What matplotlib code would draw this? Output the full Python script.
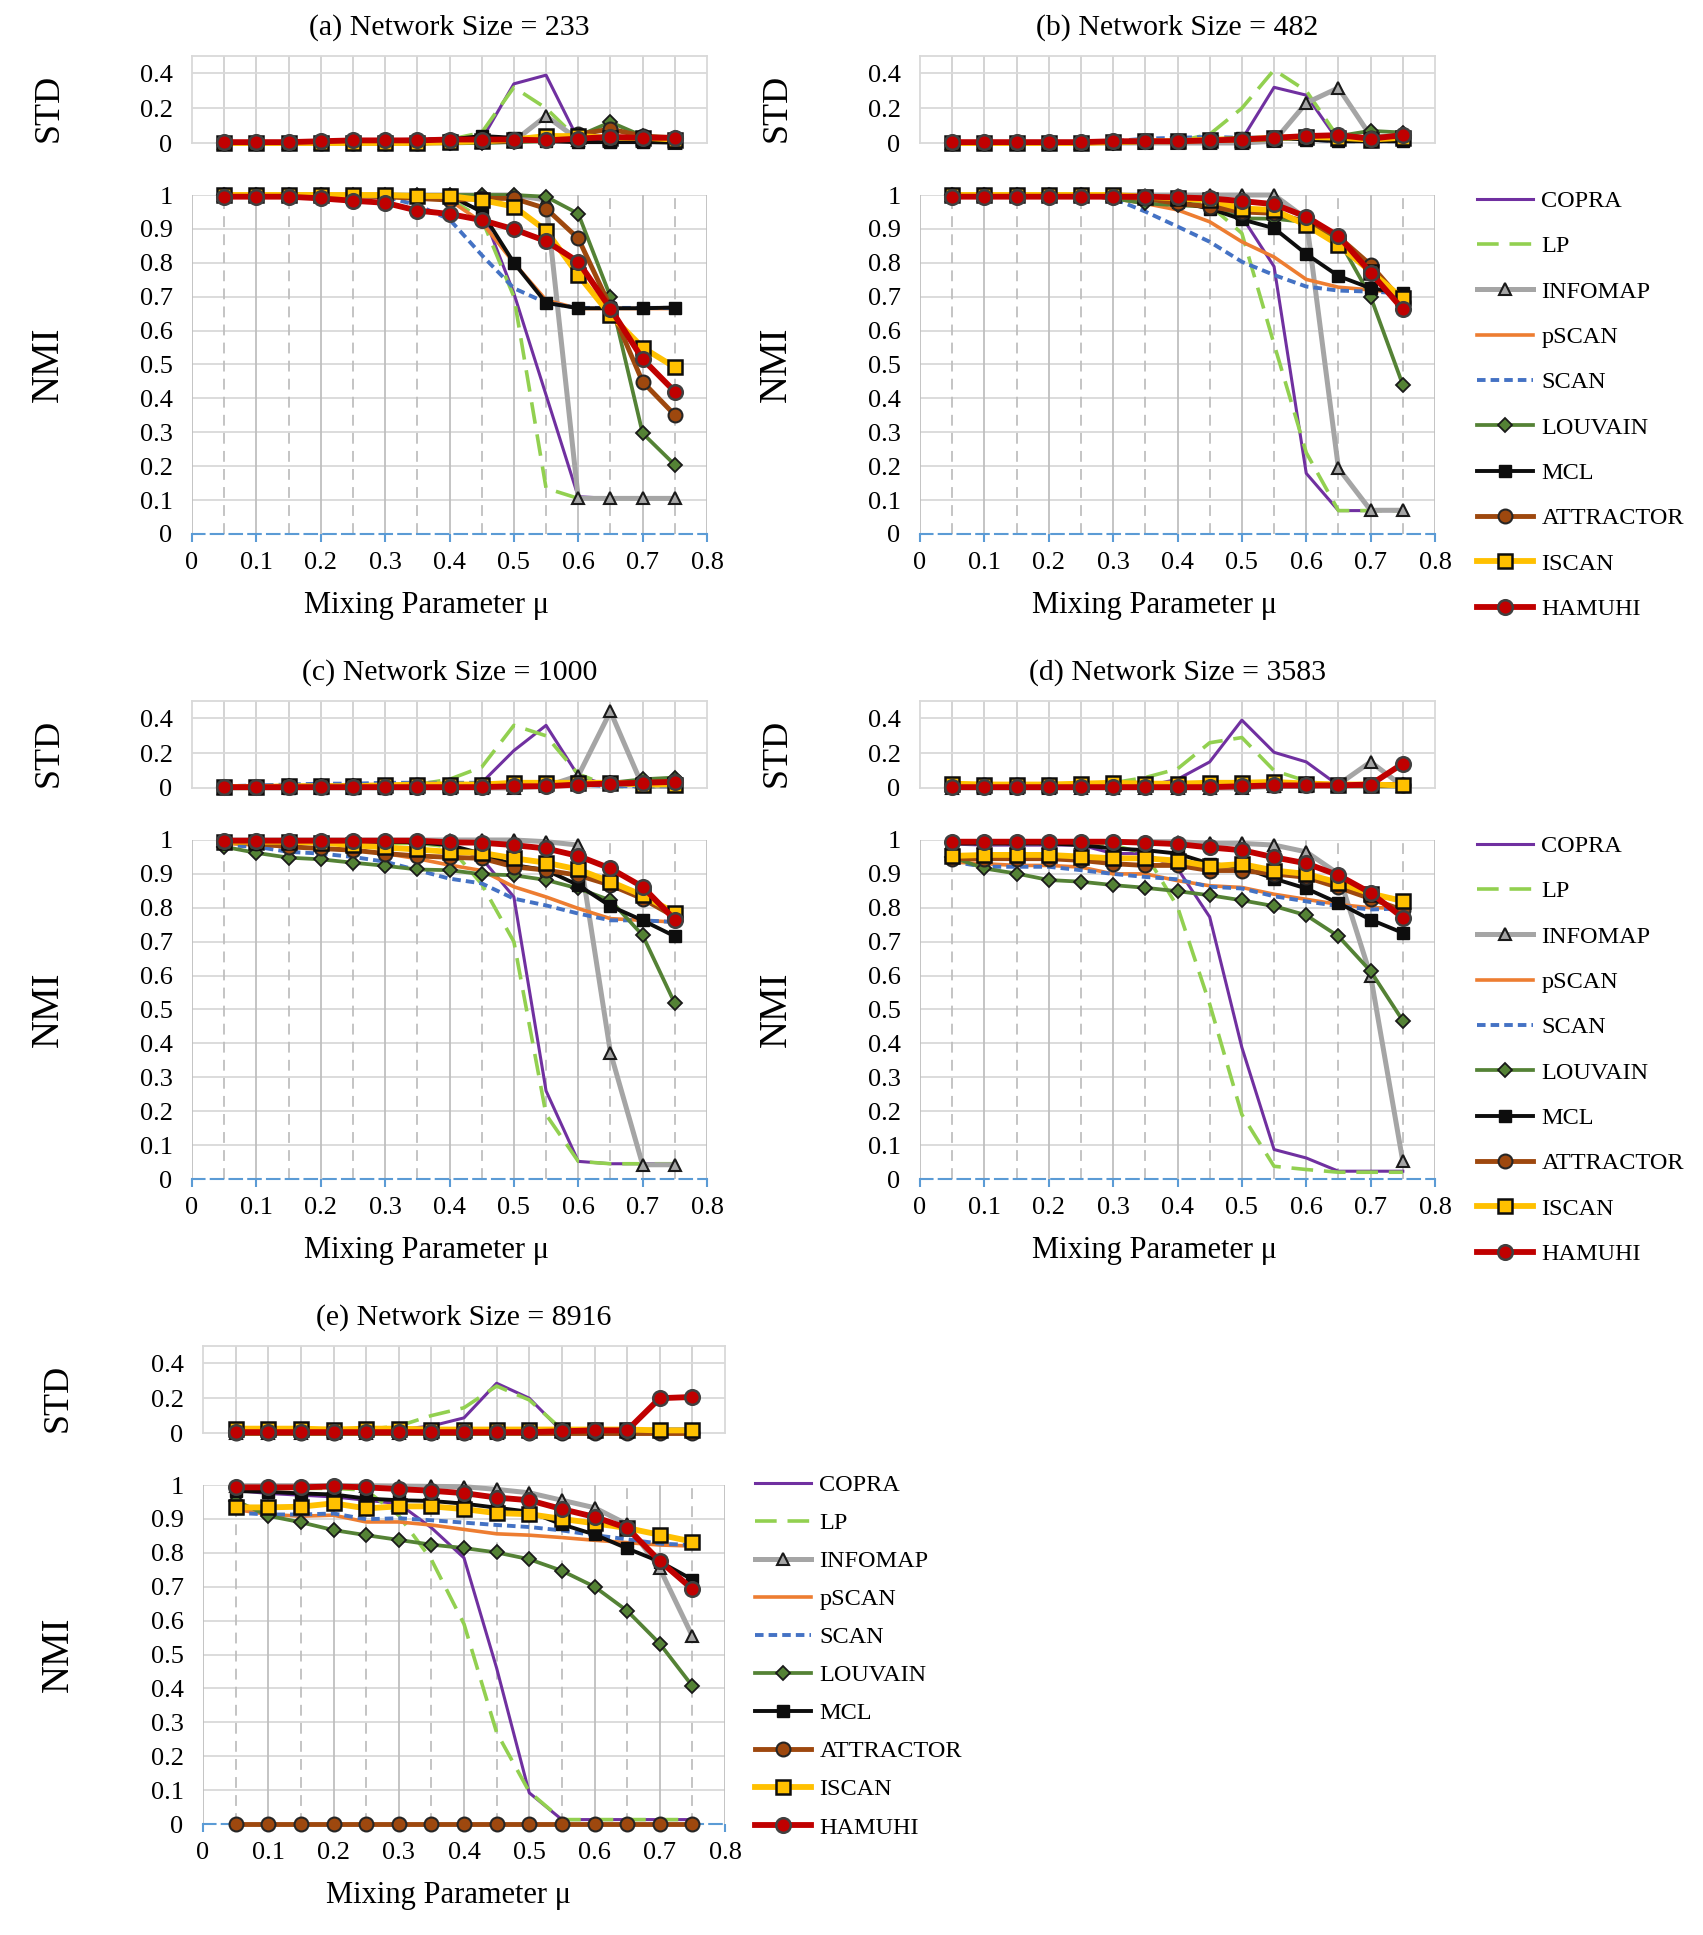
import matplotlib
matplotlib.use("Agg")
import matplotlib.pyplot as plt
import numpy as np

plt.rcParams['font.family'] = ['Liberation Serif', 'DejaVu Serif']

# mixing parameter values (x axis)
mu = [0.05, 0.10, 0.15, 0.20, 0.25, 0.30, 0.35, 0.40, 0.45, 0.50, 0.55, 0.60, 0.65, 0.70, 0.75]
methods = ["COPRA", "LP", "INFOMAP", "pSCAN", "SCAN", "LOUVAIN", "MCL", "ATTRACTOR", "ISCAN", "HAMUHI"]

# ---- network size 233 ----
nmi_233 = {
    "COPRA":     [1, 1, 1, 1, 1, 1, 1, 0.99, 0.955, 0.71, 0.41, 0.11, 0.105, 0.105, 0.105],
    "LP":        [1, 1, 1, 1, 1, 1, 1, 0.99, 0.93, 0.70, 0.135, 0.105, 0.105, 0.105, 0.105],
    "INFOMAP":   [1, 1, 1, 1, 1, 1, 1, 1, 1, 1, 0.985, 0.105, 0.105, 0.105, 0.105],
    "pSCAN":     [1, 1, 1, 1, 1, 1, 0.995, 0.985, 0.92, 0.80, 0.69, 0.665, 0.665, 0.665, 0.665],
    "SCAN":      [1, 1, 1, 1, 1, 0.995, 0.97, 0.928, 0.823, 0.725, 0.682, 0.667, 0.667, 0.667, 0.667],
    "LOUVAIN":   [1, 1, 1, 1, 1, 1, 1, 1, 1, 1, 0.995, 0.945, 0.70, 0.297, 0.204],
    "MCL":       [1, 1, 1, 1, 1, 1, 1, 1, 0.95, 0.80, 0.682, 0.666, 0.666, 0.666, 0.668],
    "ATTRACTOR": [1, 1, 1, 1, 0.997, 0.995, 0.99, 0.985, 0.99, 0.99, 0.96, 0.872, 0.67, 0.449, 0.351],
    "ISCAN":     [1, 1, 1, 1, 1, 1, 0.997, 0.997, 0.985, 0.966, 0.895, 0.764, 0.646, 0.55, 0.492],
    "HAMUHI":    [0.995, 0.995, 0.995, 0.99, 0.983, 0.977, 0.954, 0.944, 0.926, 0.899, 0.864, 0.803, 0.665, 0.516, 0.42],
}
std_233 = {
    "COPRA":     [0, 0, 0, 0, 0, 0, 0.005, 0.01, 0.02, 0.34, 0.39, 0.02, 0.01, 0.01, 0.01],
    "LP":        [0, 0, 0, 0, 0, 0.005, 0.01, 0.02, 0.06, 0.32, 0.2, 0.02, 0.01, 0.01, 0.01],
    "INFOMAP":   [0, 0, 0, 0, 0, 0, 0, 0, 0.005, 0.01, 0.155, 0.02, 0.01, 0.01, 0.0],
    "pSCAN":     [0, 0, 0, 0.005, 0.01, 0.01, 0.015, 0.02, 0.03, 0.02, 0.02, 0.01, 0.01, 0.01, 0.01],
    "SCAN":      [0, 0, 0, 0.005, 0.01, 0.015, 0.02, 0.025, 0.03, 0.02, 0.02, 0.01, 0.01, 0.01, 0.01],
    "LOUVAIN":   [0, 0, 0, 0, 0, 0, 0, 0, 0, 0.005, 0.01, 0.04, 0.12, 0.04, 0.03],
    "MCL":       [0, 0, 0, 0, 0, 0, 0, 0.02, 0.04, 0.03, 0.01, 0.005, 0.005, 0.005, 0.005],
    "ATTRACTOR": [0, 0, 0, 0, 0, 0, 0, 0.005, 0.01, 0.01, 0.02, 0.05, 0.08, 0.04, 0.03],
    "ISCAN":     [0, 0, 0, 0, 0, 0, 0, 0.005, 0.01, 0.02, 0.04, 0.04, 0.03, 0.03, 0.02],
    "HAMUHI":    [0.005, 0.005, 0.005, 0.01, 0.015, 0.015, 0.015, 0.02, 0.02, 0.02, 0.015, 0.025, 0.035, 0.03, 0.03],
}

# ---- network size 482 ----
nmi_482 = {
    "COPRA":     [1, 1, 1, 1, 1, 1, 0.995, 0.99, 0.985, 0.936, 0.789, 0.179, 0.069, 0.069, 0.069],
    "LP":        [1, 1, 1, 1, 1, 1, 0.99, 0.985, 0.97, 0.887, 0.56, 0.24, 0.069, 0.069, 0.069],
    "INFOMAP":   [1, 1, 1, 1, 1, 1, 1, 1, 1, 1, 1, 0.93, 0.194, 0.07, 0.07],
    "pSCAN":     [1, 1, 1, 1, 1, 0.99, 0.975, 0.956, 0.921, 0.862, 0.817, 0.751, 0.728, 0.72, 0.71],
    "SCAN":      [1, 1, 1, 1, 1, 0.99, 0.951, 0.907, 0.862, 0.803, 0.764, 0.73, 0.718, 0.715, 0.71],
    "LOUVAIN":   [1, 1, 1, 1, 1, 0.99, 0.975, 0.97, 0.965, 0.931, 0.93, 0.92, 0.87, 0.70, 0.44],
    "MCL":       [1, 1, 1, 1, 1, 1, 0.99, 0.98, 0.96, 0.928, 0.902, 0.826, 0.761, 0.725, 0.71],
    "ATTRACTOR": [1, 1, 1, 1, 1, 0.995, 0.99, 0.975, 0.966, 0.95, 0.946, 0.921, 0.877, 0.794, 0.685],
    "ISCAN":     [1, 1, 1, 1, 1, 1, 0.995, 0.99, 0.985, 0.96, 0.956, 0.911, 0.853, 0.774, 0.695],
    "HAMUHI":    [0.995, 0.995, 0.995, 0.995, 0.995, 0.995, 0.995, 0.993, 0.99, 0.982, 0.973, 0.936, 0.879, 0.771, 0.663],
}
std_482 = {
    "COPRA":     [0, 0, 0, 0, 0, 0, 0, 0, 0.005, 0.02, 0.32, 0.275, 0.01, 0.01, 0.01],
    "LP":        [0, 0, 0, 0, 0, 0, 0.005, 0.01, 0.05, 0.2, 0.42, 0.3, 0.03, 0.02, 0.02],
    "INFOMAP":   [0, 0, 0, 0, 0, 0, 0, 0, 0, 0, 0.01, 0.23, 0.317, 0.04, 0.03],
    "pSCAN":     [0, 0, 0, 0, 0.005, 0.01, 0.01, 0.015, 0.02, 0.025, 0.03, 0.03, 0.02, 0.02, 0.015],
    "SCAN":      [0, 0, 0, 0, 0.005, 0.01, 0.025, 0.03, 0.035, 0.03, 0.03, 0.02, 0.01, 0.01, 0.01],
    "LOUVAIN":   [0, 0, 0, 0, 0, 0, 0.005, 0.01, 0.01, 0.015, 0.02, 0.03, 0.04, 0.07, 0.06],
    "MCL":       [0, 0, 0, 0, 0, 0.005, 0.01, 0.01, 0.02, 0.03, 0.03, 0.02, 0.01, 0.01, 0.01],
    "ATTRACTOR": [0, 0, 0, 0, 0, 0.005, 0.01, 0.01, 0.015, 0.02, 0.03, 0.035, 0.04, 0.03, 0.04],
    "ISCAN":     [0, 0, 0, 0, 0, 0.005, 0.01, 0.01, 0.02, 0.02, 0.03, 0.035, 0.03, 0.02, 0.03],
    "HAMUHI":    [0.005, 0.005, 0.005, 0.005, 0.005, 0.01, 0.01, 0.01, 0.015, 0.02, 0.03, 0.04, 0.045, 0.025, 0.045],
}

# ---- network size 1000 ----
nmi_1000 = {
    "COPRA":     [0.995, 0.995, 0.995, 0.995, 0.995, 0.99, 0.99, 0.985, 0.946, 0.832, 0.26, 0.052, 0.045, 0.045, 0.045],
    "LP":        [0.995, 0.995, 0.995, 0.995, 0.995, 0.99, 0.99, 0.98, 0.87, 0.70, 0.19, 0.052, 0.045, 0.045, 0.045],
    "INFOMAP":   [1, 1, 1, 1, 1, 1, 1, 1, 1, 1, 0.995, 0.985, 0.373, 0.042, 0.042],
    "pSCAN":     [0.99, 0.985, 0.98, 0.975, 0.97, 0.96, 0.945, 0.926, 0.91, 0.862, 0.832, 0.798, 0.768, 0.763, 0.758],
    "SCAN":      [0.985, 0.98, 0.965, 0.96, 0.95, 0.936, 0.911, 0.886, 0.872, 0.827, 0.807, 0.783, 0.763, 0.763, 0.758],
    "LOUVAIN":   [0.98, 0.962, 0.948, 0.943, 0.933, 0.924, 0.913, 0.911, 0.899, 0.896, 0.882, 0.857, 0.822, 0.719, 0.518],
    "MCL":       [0.995, 0.995, 0.995, 0.995, 0.995, 0.995, 0.993, 0.985, 0.96, 0.926, 0.911, 0.867, 0.805, 0.763, 0.716],
    "ATTRACTOR": [0.995, 0.99, 0.98, 0.975, 0.97, 0.96, 0.953, 0.949, 0.946, 0.921, 0.911, 0.896, 0.867, 0.827, 0.773],
    "ISCAN":     [0.995, 0.995, 0.995, 0.992, 0.985, 0.978, 0.972, 0.965, 0.962, 0.946, 0.933, 0.913, 0.877, 0.837, 0.785],
    "HAMUHI":    [0.998, 0.998, 0.998, 0.998, 0.998, 0.998, 0.998, 0.993, 0.992, 0.985, 0.975, 0.953, 0.916, 0.862, 0.765],
}
std_1000 = {
    "COPRA":     [0, 0, 0, 0, 0, 0.005, 0.005, 0.01, 0.03, 0.215, 0.36, 0.07, 0.01, 0.01, 0.01],
    "LP":        [0, 0, 0, 0, 0, 0.005, 0.02, 0.05, 0.12, 0.36, 0.3, 0.08, 0.01, 0.005, 0.005],
    "INFOMAP":   [0, 0, 0, 0, 0, 0, 0, 0, 0, 0, 0.01, 0.07, 0.44, 0.01, 0.01],
    "pSCAN":     [0.01, 0.01, 0.015, 0.015, 0.02, 0.02, 0.02, 0.02, 0.025, 0.02, 0.02, 0.02, 0.02, 0.02, 0.02],
    "SCAN":      [0.01, 0.015, 0.02, 0.025, 0.025, 0.03, 0.03, 0.03, 0.03, 0.025, 0.02, 0.02, 0.01, 0.01, 0.01],
    "LOUVAIN":   [0.005, 0.005, 0.01, 0.01, 0.01, 0.01, 0.01, 0.01, 0.01, 0.01, 0.01, 0.02, 0.03, 0.05, 0.06],
    "MCL":       [0, 0, 0, 0, 0, 0, 0.005, 0.005, 0.01, 0.01, 0.02, 0.03, 0.03, 0.02, 0.02],
    "ATTRACTOR": [0.005, 0.005, 0.01, 0.01, 0.01, 0.01, 0.015, 0.015, 0.02, 0.02, 0.02, 0.03, 0.03, 0.03, 0.04],
    "ISCAN":     [0.005, 0.005, 0.01, 0.01, 0.01, 0.015, 0.02, 0.02, 0.02, 0.03, 0.03, 0.03, 0.03, 0.02, 0.02],
    "HAMUHI":    [0.005, 0.005, 0.005, 0.005, 0.005, 0.005, 0.005, 0.005, 0.005, 0.01, 0.01, 0.02, 0.025, 0.03, 0.035],
}

# ---- network size 3583 ----
nmi_3583 = {
    "COPRA":     [0.988, 0.985, 0.985, 0.985, 0.985, 0.96, 0.96, 0.916, 0.773, 0.388, 0.087, 0.062, 0.023, 0.023, 0.023],
    "LP":        [0.99, 0.99, 0.99, 0.99, 0.99, 0.985, 0.96, 0.803, 0.516, 0.19, 0.0375, 0.028, 0.02, 0.02, 0.02],
    "INFOMAP":   [0.995, 0.995, 0.995, 0.995, 0.995, 0.995, 0.995, 0.995, 0.99, 0.99, 0.985, 0.965, 0.9, 0.6, 0.052],
    "pSCAN":     [0.935, 0.93, 0.925, 0.925, 0.92, 0.9, 0.9, 0.88, 0.865, 0.86, 0.84, 0.825, 0.81, 0.8, 0.8],
    "SCAN":      [0.936, 0.921, 0.921, 0.921, 0.911, 0.9, 0.891, 0.884, 0.862, 0.857, 0.834, 0.819, 0.805, 0.795, 0.798],
    "LOUVAIN":   [0.95, 0.916, 0.901, 0.882, 0.877, 0.867, 0.859, 0.849, 0.837, 0.822, 0.805, 0.778, 0.716, 0.613, 0.467],
    "MCL":       [0.99, 0.99, 0.99, 0.99, 0.985, 0.975, 0.97, 0.96, 0.93, 0.92, 0.886, 0.857, 0.814, 0.765, 0.726],
    "ATTRACTOR": [0.945, 0.945, 0.945, 0.945, 0.94, 0.93, 0.925, 0.925, 0.91, 0.91, 0.9, 0.89, 0.86, 0.827, 0.793],
    "ISCAN":     [0.953, 0.956, 0.956, 0.956, 0.951, 0.946, 0.946, 0.939, 0.923, 0.929, 0.91, 0.9, 0.874, 0.842, 0.82],
    "HAMUHI":    [0.995, 0.995, 0.995, 0.995, 0.995, 0.995, 0.992, 0.988, 0.978, 0.97, 0.949, 0.931, 0.896, 0.844, 0.771],
}
std_3583 = {
    "COPRA":     [0, 0, 0, 0, 0, 0, 0.01, 0.05, 0.15, 0.39, 0.205, 0.15, 0.015, 0.01, 0.01],
    "LP":        [0, 0, 0, 0, 0.01, 0.03, 0.06, 0.11, 0.26, 0.29, 0.1, 0.04, 0.01, 0.01, 0.01],
    "INFOMAP":   [0, 0, 0, 0, 0, 0, 0, 0, 0, 0, 0.01, 0.01, 0.02, 0.15, 0.01],
    "pSCAN":     [0.02, 0.02, 0.02, 0.02, 0.02, 0.02, 0.02, 0.02, 0.02, 0.02, 0.02, 0.02, 0.02, 0.02, 0.02],
    "SCAN":      [0.02, 0.02, 0.02, 0.02, 0.02, 0.02, 0.02, 0.02, 0.02, 0.02, 0.02, 0.02, 0.02, 0.02, 0.02],
    "LOUVAIN":   [0.005, 0.01, 0.01, 0.01, 0.01, 0.01, 0.01, 0.01, 0.01, 0.015, 0.02, 0.02, 0.02, 0.02, 0.02],
    "MCL":       [0.005, 0.005, 0.005, 0.005, 0.005, 0.005, 0.005, 0.005, 0.01, 0.01, 0.01, 0.01, 0.01, 0.01, 0.01],
    "ATTRACTOR": [0.015, 0.015, 0.015, 0.015, 0.015, 0.02, 0.02, 0.02, 0.025, 0.025, 0.03, 0.025, 0.02, 0.02, 0.02],
    "ISCAN":     [0.025, 0.02, 0.02, 0.02, 0.025, 0.03, 0.025, 0.025, 0.03, 0.03, 0.035, 0.025, 0.02, 0.02, 0.015],
    "HAMUHI":    [0.005, 0.005, 0.005, 0.005, 0.005, 0.005, 0.005, 0.005, 0.005, 0.01, 0.015, 0.015, 0.015, 0.02, 0.14],
}

# ---- network size 8916 ----
nmi_8916 = {
    "COPRA":     [0.984, 0.975, 0.97, 0.965, 0.955, 0.945, 0.874, 0.785, 0.46, 0.092, 0.013, 0.013, 0.013, 0.013, 0.013],
    "LP":        [0.99, 0.99, 0.99, 0.99, 0.985, 0.91, 0.78, 0.59, 0.27, 0.095, 0.013, 0.013, 0.013, 0.013, 0.013],
    "INFOMAP":   [0.998, 0.998, 0.998, 0.998, 0.998, 0.997, 0.996, 0.995, 0.987, 0.977, 0.955, 0.933, 0.884, 0.754, 0.554],
    "pSCAN":     [0.928, 0.913, 0.908, 0.911, 0.891, 0.891, 0.882, 0.869, 0.856, 0.852, 0.845, 0.837, 0.83, 0.823, 0.82],
    "SCAN":      [0.918, 0.913, 0.913, 0.916, 0.899, 0.902, 0.896, 0.889, 0.882, 0.876, 0.866, 0.852, 0.84, 0.827, 0.823],
    "LOUVAIN":   [0.954, 0.909, 0.89, 0.867, 0.852, 0.838, 0.824, 0.814, 0.801, 0.781, 0.747, 0.7, 0.629, 0.532, 0.407],
    "MCL":       [0.982, 0.98, 0.975, 0.972, 0.96, 0.955, 0.953, 0.945, 0.933, 0.921, 0.884, 0.854, 0.813, 0.774, 0.721],
    "ATTRACTOR": [0, 0, 0, 0, 0, 0, 0, 0, 0, 0, 0, 0, 0, 0, 0],
    "ISCAN":     [0.934, 0.934, 0.936, 0.946, 0.931, 0.937, 0.937, 0.929, 0.917, 0.914, 0.9, 0.887, 0.873, 0.853, 0.833],
    "HAMUHI":    [0.993, 0.993, 0.993, 0.996, 0.993, 0.988, 0.983, 0.976, 0.963, 0.955, 0.929, 0.906, 0.873, 0.776, 0.693],
}
std_8916 = {
    "COPRA":     [0.01, 0.01, 0.01, 0.01, 0.01, 0.02, 0.04, 0.087, 0.286, 0.2, 0.01, 0.01, 0.01, 0.01, 0.01],
    "LP":        [0.01, 0.01, 0.01, 0.01, 0.02, 0.04, 0.1, 0.145, 0.27, 0.19, 0.02, 0.01, 0.01, 0.01, 0.01],
    "INFOMAP":   [0, 0, 0, 0, 0, 0, 0, 0, 0, 0.01, 0.01, 0.01, 0.01, 0.02, 0.02],
    "pSCAN":     [0.02, 0.02, 0.02, 0.02, 0.02, 0.02, 0.02, 0.02, 0.02, 0.02, 0.02, 0.02, 0.02, 0.02, 0.02],
    "SCAN":      [0.02, 0.02, 0.02, 0.02, 0.02, 0.02, 0.02, 0.02, 0.02, 0.02, 0.02, 0.02, 0.02, 0.02, 0.02],
    "LOUVAIN":   [0.01, 0.01, 0.01, 0.01, 0.01, 0.01, 0.01, 0.01, 0.01, 0.01, 0.01, 0.01, 0.01, 0.01, 0.01],
    "MCL":       [0.005, 0.005, 0.005, 0.005, 0.005, 0.005, 0.005, 0.005, 0.005, 0.005, 0.005, 0.005, 0.005, 0.005, 0.005],
    "ATTRACTOR": [0, 0, 0, 0, 0, 0, 0, 0, 0, 0, 0, 0, 0, 0, 0],
    "ISCAN":     [0.025, 0.025, 0.025, 0.02, 0.025, 0.025, 0.02, 0.02, 0.02, 0.02, 0.02, 0.02, 0.02, 0.015, 0.015],
    "HAMUHI":    [0.005, 0.005, 0.005, 0.005, 0.005, 0.005, 0.005, 0.005, 0.005, 0.005, 0.01, 0.015, 0.015, 0.2, 0.207],
}

STYLE = {
    "COPRA":     dict(color="#7030A0", lw=2.2),
    "LP":        dict(color="#92D050", lw=2.6, dashes=(6, 3)),
    "INFOMAP":   dict(color="#A5A5A5", lw=3.6, marker="^", ms=9, mfc="#A5A5A5", mec="#1A1A1A", mew=1.5),
    "pSCAN":     dict(color="#ED7D31", lw=2.6),
    "SCAN":      dict(color="#4472C4", lw=2.8, dashes=(2.2, 1.3)),
    "LOUVAIN":   dict(color="#548235", lw=2.7, marker="D", ms=7.5, mfc="#548235", mec="#1A1A1A", mew=1.3),
    "MCL":       dict(color="#0D0D0D", lw=2.8, marker="s", ms=8, mfc="#0D0D0D", mec="#0D0D0D"),
    "ATTRACTOR": dict(color="#9E480E", lw=3.5, marker="o", ms=10, mfc="#9E480E", mec="#262626", mew=1.5),
    "ISCAN":     dict(color="#FFC000", lw=4.2, marker="s", ms=10.5, mfc="#FFC000", mec="#0D0D0D", mew=1.8),
    "HAMUHI":    dict(color="#C00000", lw=4.2, marker="o", ms=10.5, mfc="#C00000", mec="#404040", mew=1.8),
}

W, H = 1703, 1935
TICK_FS = 19


def px_axes(left, top, width, height):
    return fig.add_axes([left / W, 1 - (top + height) / H, width / W, height / H])


def draw_std(ax, data, title):
    ax.set_xlim(0, 0.8)
    ax.set_ylim(0, 0.5)
    for x in np.arange(0.05, 0.8, 0.05):
        ax.axvline(x, color="#C8C8C8", lw=1.1, zorder=0.5)
    for y in [0.2, 0.4]:
        ax.axhline(y, color="#D9D9D9", lw=1.3, zorder=0.5)
    for s in ax.spines.values():
        s.set_color("#D9D9D9")
        s.set_linewidth(1.3)
    ax.set_xticks([])
    ax.set_yticks([0, 0.2, 0.4])
    ax.set_yticklabels(["0", "0.2", "0.4"])
    ax.tick_params(axis="y", length=0, pad=14, labelsize=TICK_FS)
    for i, m in enumerate(methods):
        ax.plot(mu, data[m], label=m, zorder=2 + i, clip_on=False, **STYLE[m])
    ax.text(-0.278, 0.4, "STD", transform=ax.transAxes, rotation=90,
            ha="center", va="center", fontsize=26)
    ax.text(0.5, 1.33, title, transform=ax.transAxes, ha="center", va="center", fontsize=21.5)


def draw_nmi(ax, data, xlab_pos):
    ax.set_xlim(0, 0.8)
    ax.set_ylim(0, 1)
    for y in np.arange(0.1, 1.01, 0.1):
        ax.axhline(y, color="#D9D9D9", lw=1.3, zorder=0.5)
    for x in np.arange(0, 0.81, 0.1):
        ax.axvline(x, color="#BFBFBF", lw=1.3, zorder=0.6)
    for x in np.arange(0.05, 0.8, 0.1):
        ax.axvline(x, color="#BFBFBF", lw=1.3, dashes=(6, 4), zorder=0.6)
    for side in ["top", "left", "right"]:
        ax.spines[side].set_visible(False)
    ax.spines["bottom"].set_color("#5B9BD5")
    ax.spines["bottom"].set_linewidth(1.5)
    ax.spines["bottom"].set_linestyle((0, (6, 3)))
    ax.set_xticks(np.arange(0, 0.81, 0.1))
    ax.set_xticklabels(["0", "0.1", "0.2", "0.3", "0.4", "0.5", "0.6", "0.7", "0.8"])
    ax.set_yticks(np.arange(0, 1.01, 0.1))
    ax.set_yticklabels(["0", "0.1", "0.2", "0.3", "0.4", "0.5", "0.6", "0.7", "0.8", "0.9", "1"])
    ax.tick_params(axis="x", length=6, width=1.5, color="#5B9BD5", pad=7, labelsize=TICK_FS)
    ax.tick_params(axis="y", length=0, pad=14, labelsize=TICK_FS)
    for i, m in enumerate(methods):
        ax.plot(mu, data[m], label=m, zorder=2 + i, clip_on=False, **STYLE[m])
    ax.text(xlab_pos, -0.21, "Mixing Parameter \u03bc", transform=ax.transAxes,
            ha="center", va="center", fontsize=22)
    ax.text(-0.278, 0.5, "NMI", transform=ax.transAxes, rotation=90,
            ha="center", va="center", fontsize=28)


fig = plt.figure(figsize=(W / 100, H / 100), dpi=100)

panels = [
    ("(a) Network Size = 233", nmi_233, std_233, 192, 515, 0, 0.455),
    ("(b) Network Size = 482", nmi_482, std_482, 920, 515, 0, 0.455),
    ("(c) Network Size = 1000", nmi_1000, std_1000, 192, 515, 645, 0.455),
    ("(d) Network Size = 3583", nmi_3583, std_3583, 920, 515, 645, 0.455),
    ("(e) Network Size = 8916", nmi_8916, std_8916, 203, 522, 1290, 0.47),
]

nmi_axes = []
for title, nmi, std, left, width, off, xlab_pos in panels:
    ax_s = px_axes(left, 56 + off, width, 87)
    draw_std(ax_s, std, title)
    ax_n = px_axes(left, 195 + off, width, 339)
    draw_nmi(ax_n, nmi, xlab_pos)
    nmi_axes.append(ax_n)

handles, labels = nmi_axes[0].get_legend_handles_labels()
leg_kw = dict(frameon=False, fontsize=17.5, handlelength=2.3, handletextpad=0.35,
              borderpad=0, borderaxespad=0, loc="upper left")
fig.legend(handles, labels, bbox_to_anchor=(1477 / W, 1 - 190 / H), labelspacing=0.96, **leg_kw)
fig.legend(handles, labels, bbox_to_anchor=(1477 / W, 1 - 835 / H), labelspacing=0.96, **leg_kw)
fig.legend(handles, labels, bbox_to_anchor=(755 / W, 1 - 1474 / H), labelspacing=0.66, **leg_kw)

fig.savefig("out.png", dpi=100)
